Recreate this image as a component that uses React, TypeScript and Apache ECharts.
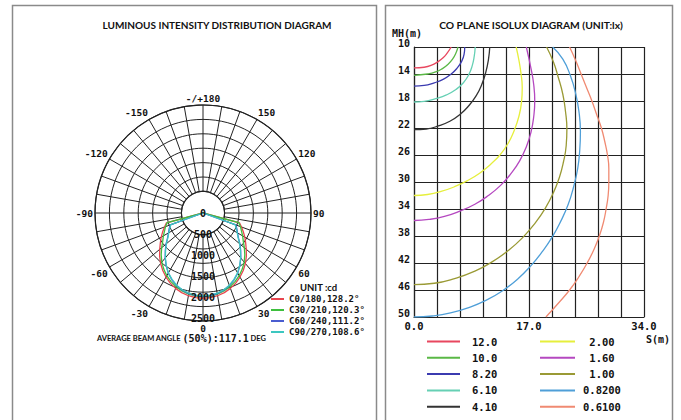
import React, { useEffect, useRef } from "react";
import * as echarts from "echarts";

// ---------- Luminous intensity distribution (polar) ----------
const POLAR_ANGLES = [0, 5, 10, 15, 20, 25, 30, 35, 40, 45, 50, 55, 60, 65, 70, 75, 80, 85, 90];
const C0_180 = [2030, 2022, 2000, 1962, 1910, 1842, 1762, 1670, 1570, 1460, 1345, 1240, 1150, 1060, 975, 900, 0, 0, 0];
const C30_210 = [1990, 1982, 1960, 1922, 1870, 1803, 1723, 1630, 1525, 1408, 1285, 1170, 1090, 1010, 950, 880, 0, 0, 0];
const C60_240 = [1985, 1975, 1950, 1905, 1840, 1755, 1655, 1530, 1400, 1270, 1150, 1030, 950, 890, 830, 0, 0, 0, 0];
const C90_270 = [1975, 1965, 1940, 1895, 1830, 1745, 1645, 1525, 1395, 1260, 1140, 1020, 940, 875, 815, 0, 0, 0, 0];
const POLAR_NAMES = ["C0/180,128.2°", "C30/210,120.3°", "C60/240,111.2°", "C90/270,108.6°"];
const POLAR_SERIES = [C0_180, C30_210, C60_240, C90_270];
const POLAR_COLORS = ["#e8454f", "#3dbf3d", "#4a5dd0", "#3cc7c0"];
const INTENSITY_MAX = 2500;
const INTENSITY_STEP = 500;
const ANGLE_LABEL_STEP = 30;
const ANGLE_GRID_STEP = 10;
const RING_COUNT = 6;

// ---------- C0 plane isolux diagram ----------
const MH_MIN = 10;
const MH_MAX = 50;
const MH_STEP = 4;
const S_MAX = 34;
const S_STEP = 3.4;
const S_LABELS = [0, 17, 34];

const ISO_LEVELS = ["12.0", "10.0", "8.20", "6.10", "4.10", "2.00", "1.60", "1.00", "0.8200", "0.6100"];
const ISO_12_0 = [[0, 13.1], [1.5, 13.0], [2.6, 12.7], [3.5, 12.2], [4.3, 11.6], [4.9, 10.9], [5.5, 10]];
const ISO_10_0 = [[0, 14.2], [2, 14.0], [3.2, 13.7], [4.2, 13.2], [5.0, 12.6], [5.7, 11.8], [6.2, 10.9], [6.5, 10]];
const ISO_8_20 = [[0, 15.8], [1.5, 15.7], [3.0, 15.3], [4.3, 14.8], [5.5, 14.0], [6.4, 13.1], [7.0, 12.2], [7.4, 11.1], [7.5, 10]];
const ISO_6_10 = [[0, 18.15], [1.5, 18.05], [3.2, 17.65], [4.8, 17.1], [6.2, 16.3], [7.3, 15.3], [8.1, 14.1], [8.6, 12.8], [8.9, 11.4], [9.05, 10]];
const ISO_4_10 = [[0, 22.25], [1.8, 22.15], [3.6, 21.7], [5.3, 21.0], [6.8, 20.0], [8.1, 18.7], [9.2, 17.2], [10.0, 15.6], [10.6, 13.8], [11.0, 11.9], [11.2, 10]];
const ISO_2_00 = [[0, 32], [2, 31.85], [4, 31.4], [6, 30.7], [7.9, 29.8], [9.7, 28.7], [11.3, 27.4], [12.7, 26], [13.9, 24.3], [14.8, 22.4], [15.5, 20.3], [15.9, 18.1], [16.0, 16], [15.8, 13.8], [15.5, 11.9], [15.1, 10]];
const ISO_1_60 = [[0, 35.7], [2.2, 35.55], [4.5, 35.1], [6.8, 34.3], [9, 33.3], [11, 32], [12.8, 30.5], [14.3, 28.8], [15.6, 26.9], [16.6, 24.8], [17.3, 22.6], [17.7, 20.3], [17.85, 18], [17.7, 15.6], [17.3, 13.2], [16.6, 10]];
const ISO_1_00 = [[0, 45.2], [3, 45.0], [6, 44.3], [9, 43.2], [11.6, 41.8], [14, 40.1], [16.1, 38.2], [17.9, 36.1], [19.4, 33.9], [20.6, 31.6], [21.5, 29.3], [22.1, 27], [22.5, 24.6], [22.6, 22.2], [22.4, 19.6], [22.0, 17], [21.3, 14.4], [20.6, 12.2], [19.6, 10]];
const ISO_0_82 = [[0, 50], [2.7, 49.85], [5.4, 49.4], [8.1, 48.6], [10.7, 47.5], [13.1, 46.1], [15.3, 44.4], [17.2, 42.5], [18.9, 40.4], [20.4, 38.2], [21.7, 35.8], [22.8, 33.3], [23.6, 30.7], [24.2, 28.0], [24.5, 25.3], [24.6, 22.5], [24.4, 19.7], [23.9, 16.9], [23.1, 14.2], [22.0, 11.8], [20.5, 10]];
const ISO_0_61 = [[19.5, 50], [21.3, 48], [23.0, 46], [24.4, 44], [25.6, 42], [26.6, 40], [27.4, 38], [28.0, 36], [28.4, 34], [28.7, 32], [28.8, 30], [28.8, 28], [28.6, 26], [28.2, 24], [27.7, 22], [27.0, 20], [26.3, 18], [25.5, 16], [24.7, 14], [23.9, 12], [23, 10]];
const ISO_SERIES = [ISO_12_0, ISO_10_0, ISO_8_20, ISO_6_10, ISO_4_10, ISO_2_00, ISO_1_60, ISO_1_00, ISO_0_82, ISO_0_61];
const ISO_COLORS = ["#e8475f", "#5ab846", "#3b3bb0", "#66d0b4", "#333333", "#e6ef3c", "#b548c0", "#9a9a35", "#4f9fd8", "#f08a72"];

const MONO = "DejaVu Sans Mono";
const SANS = "Lato";
const INK = "#111";
const GRID = "#222";

function mirror(vals: number[]) {
  const d: number[][] = [];
  for (let i = POLAR_ANGLES.length - 1; i > 0; i--) d.push([vals[i], 360 - POLAR_ANGLES[i]]);
  for (let i = 0; i < POLAR_ANGLES.length; i++) d.push([vals[i], POLAR_ANGLES[i]]);
  return d;
}

function angleLabel(v: number) {
  const a = Math.round(v);
  if (a === 360) return "";
  if (a === 180) return "-/+180";
  if (a > 180) return "-" + (360 - a);
  return String(a);
}

function buildOption() {
  const monoLabel = { fontFamily: MONO, fontWeight: "bold" as const, color: INK };
  const polarSeries = POLAR_SERIES.map((vals, i) => ({
    name: POLAR_NAMES[i],
    type: "line",
    coordinateSystem: "polar",
    polarIndex: 1,
    data: mirror(vals),
    symbol: "none",
    color: POLAR_COLORS[i],
    lineStyle: { width: 1.3, color: POLAR_COLORS[i] },
    z: 3,
  }));
  const isoSeries = ISO_SERIES.map((pts, i) => ({
    name: ISO_LEVELS[i],
    type: "line",
    xAxisIndex: 0,
    yAxisIndex: 0,
    data: pts.map(([s, mh]) => [s, mh - MH_MIN]),
    symbol: "none",
    smooth: 0.5,
    color: ISO_COLORS[i],
    lineStyle: { width: 1.3, color: ISO_COLORS[i] },
    z: 3,
  }));

  return {
    animation: false,
    backgroundColor: "#fff",
    title: [
      {
        text: "LUMINOUS INTENSITY DISTRIBUTION DIAGRAM",
        left: 217, top: 20, textAlign: "center", padding: 0,
        textStyle: { fontFamily: SANS, fontWeight: "bold", fontSize: 10, color: INK },
      },
      {
        text: "CO PLANE ISOLUX DIAGRAM (UNIT:lx)",
        left: 531, top: 20, textAlign: "center", padding: 0,
        textStyle: { fontFamily: SANS, fontWeight: "bold", fontSize: 10.3, color: INK },
      },
    ],
    graphic: [
      { type: "rect", shape: { x: 12.5, y: 5.5, width: 364, height: 430 }, style: { fill: "none", stroke: "#8a8a8a", lineWidth: 1.5 }, z: 10 },
      { type: "rect", shape: { x: 385.5, y: 5.5, width: 287, height: 430 }, style: { fill: "none", stroke: "#8a8a8a", lineWidth: 1.5 }, z: 10 },
      { type: "text", x: 300, y: 287, style: { text: "UNIT :cd", fontFamily: SANS, fontWeight: "bold", fontSize: 9.5, fill: INK, verticalAlign: "middle" }, z: 10 },
      {
        type: "text", x: 97, y: 338, z: 10,
        style: {
          text: "{s|AVERAGE BEAM ANGLE }{m|(50%):117.1}{s| DEG}",
          verticalAlign: "middle",
          rich: {
            s: { fontFamily: SANS, fontWeight: "bold", fontSize: 7.5, fill: INK },
            m: { fontFamily: MONO, fontWeight: "bold", fontSize: 10, fill: INK },
          },
        },
      },
    ],
    legend: [
      {
        orient: "vertical", left: 271, top: 294, padding: 0, itemWidth: 13, itemHeight: 2, itemGap: 1,
        icon: "rect", selectedMode: false, data: POLAR_NAMES,
        textStyle: { ...monoLabel, fontSize: 9, lineHeight: 10 },
      },
      {
        orient: "vertical", left: 427, top: 336, padding: 0, itemWidth: 33, itemHeight: 2, itemGap: 5.3,
        icon: "rect", selectedMode: false, data: ISO_LEVELS.slice(0, 5),
        textStyle: { ...monoLabel, fontSize: 10.5, lineHeight: 11, padding: [0, 0, 0, 7] },
      },
      {
        orient: "vertical", left: 540, top: 336, padding: 0, itemWidth: 35, itemHeight: 2, itemGap: 5.3,
        icon: "rect", selectedMode: false, data: ISO_LEVELS.slice(5),
        formatter: (n: string) => (n.length === 4 ? "\u00a0" + n + "\u00a0" : n),
        textStyle: { ...monoLabel, fontSize: 10.5, lineHeight: 11, padding: [0, 0, 0, 3] },
      },
    ],
    polar: [
      { center: [203, 213], radius: [21.6, 108] },
      { center: [203, 213], radius: 105 },
    ],
    angleAxis: [
      {
        polarIndex: 0, type: "value", min: 0, max: 360, interval: ANGLE_GRID_STEP, startAngle: 270, clockwise: false,
        axisLine: { show: true, lineStyle: { color: GRID, width: 1.2 } },
        axisTick: { show: false }, axisLabel: { show: false },
        splitLine: { show: true, lineStyle: { color: GRID, width: 1 } },
      },
      {
        polarIndex: 1, type: "value", min: 0, max: 360, interval: ANGLE_LABEL_STEP, startAngle: 270, clockwise: false,
        axisLine: { show: false }, axisTick: { show: false }, splitLine: { show: false },
        axisLabel: { show: true, margin: 5, formatter: angleLabel, ...monoLabel, fontSize: 9.5 },
      },
    ],
    radiusAxis: [
      {
        polarIndex: 0, type: "value", min: 0, max: RING_COUNT, interval: 1,
        axisLine: { show: false }, axisTick: { show: false }, axisLabel: { show: false },
        splitLine: { show: true, lineStyle: { color: GRID, width: 1 } },
      },
      {
        polarIndex: 1, type: "value", min: 0, max: INTENSITY_MAX, interval: INTENSITY_STEP, z: 5,
        axisLine: { show: false }, axisTick: { show: false }, splitLine: { show: false },
        axisLabel: {
          show: true, margin: 0, align: "center", verticalAlign: "middle", padding: [0, 0, 5, 0], ...monoLabel, fontSize: 10,
          formatter: (v: number) => String(Math.round(v)),
        },
      },
    ],
    grid: { left: 414, top: 47, width: 230, height: 270, containLabel: false },
    xAxis: {
      type: "value", min: 0, max: S_MAX, interval: S_STEP, gridIndex: 0,
      name: "S(m)", nameLocation: "end", nameGap: 2,
      nameTextStyle: { ...monoLabel, fontSize: 10, align: "left", verticalAlign: "top", padding: [17, 0, 0, 0] },
      axisLine: { show: true, onZero: false, lineStyle: { color: GRID, width: 1.2 } },
      axisTick: { show: false },
      splitLine: { show: true, lineStyle: { color: GRID, width: 1.2 } },
      axisLabel: {
        margin: 3, ...monoLabel, fontSize: 10.5,
        formatter: (v: number) => (S_LABELS.some((s) => Math.abs(s - v) < 0.01) ? v.toFixed(1) : ""),
      },
    },
    yAxis: {
      type: "value", inverse: true, min: 0, max: MH_MAX - MH_MIN, interval: MH_STEP, gridIndex: 0,
      name: "MH(m)", nameLocation: "start", nameGap: 8,
      nameTextStyle: { ...monoLabel, fontSize: 10, align: "center", padding: [0, 14, 0, 0] },
      axisLine: { show: true, onZero: false, lineStyle: { color: GRID, width: 1.2 } },
      axisTick: { show: false },
      splitLine: { show: true, lineStyle: { color: GRID, width: 1.2 } },
      axisLabel: {
        margin: 4, ...monoLabel, fontSize: 10, verticalAlign: "bottom", lineHeight: 7,
        formatter: (v: number) => String(Math.round(v + MH_MIN)),
      },
    },
    series: [...polarSeries, ...isoSeries],
  };
}

export default function App() {
  const ref = useRef<HTMLDivElement>(null);
  useEffect(() => {
    if (!ref.current) return;
    const chart = echarts.init(ref.current, null, { renderer: "svg" });
    chart.setOption(buildOption() as any);
    return () => chart.dispose();
  }, []);
  return (
    <div
      ref={ref}
      style={{ position: "fixed", left: 0, top: 0, width: 681, height: 420, background: "#fff" }}
    />
  );
}
